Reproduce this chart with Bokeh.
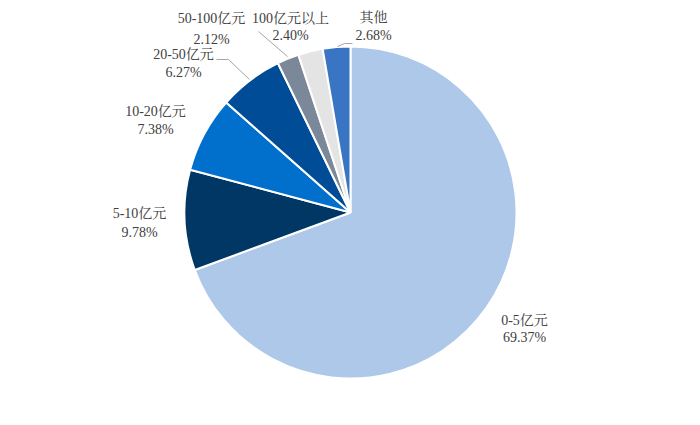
import math
from bokeh.plotting import figure
from bokeh.models import Range1d, ColumnDataSource
from bokeh.core.properties import value
from bokeh.embed import file_html
from bokeh.resources import INLINE

# ---- data ----
categories = ["0-5亿元", "5-10亿元", "10-20亿元", "20-50亿元", "50-100亿元", "100亿元以上", "其他"]
shares = [69.37, 9.78, 7.38, 6.27, 2.12, 2.40, 2.68]
colors = ["#aec8ea", "#003764", "#0070cc", "#004c97", "#7a8899", "#e4e4e4", "#3a75c4"]

# ---- layout (page pixel coordinates) ----
cx, cy, R = 350, 212, 166
label_x = [524, 139, 155, 183, 211, 290, 373]
label_y1 = [320, 213, 111, 54, 18, 18, 17]
label_y2 = [337, 232, 129, 72, 39, 35, 35]
leaders = [
    ([216, 228, 249], [59, 59, 79]),
    ([258, 287], [31, 56]),
    ([352, 344, 337], [43, 43, 46]),
]

W, H = 684, 409
p = figure(width=W, height=H, output_backend="svg", toolbar_location=None,
           x_range=Range1d(0, W), y_range=Range1d(-H, 0),
           min_border=0)
p.axis.visible = False
p.grid.visible = False
p.outline_line_color = None
p.background_fill_color = "white"

total = sum(shares)
starts, ends = [], []
acc = 0.0
for s in shares:
    starts.append(math.pi / 2 - 2 * math.pi * acc / total)
    acc += s
    ends.append(math.pi / 2 - 2 * math.pi * acc / total)

src = ColumnDataSource(dict(x=[cx] * len(shares), y=[-cy] * len(shares),
                            start=starts, end=ends, color=colors))
p.wedge(x="x", y="y", radius=R, start_angle="start", end_angle="end",
        direction="clock", fill_color="color", line_color="white",
        line_width=2, source=src)

for xs, ys in leaders:
    p.line(xs, [-v for v in ys], line_color="#a6a6a6", line_width=1)

font = value("'Liberation Serif', 'Noto Serif CJK SC', 'Noto Sans CJK SC', serif")
pct = [f"{v:.2f}%" for v in shares]
p.text(x=label_x, y=[-v for v in label_y1], text=categories, text_font=font,
       text_font_size="14px", text_color="#404040", text_align="center",
       text_baseline="middle")
p.text(x=label_x, y=[-v for v in label_y2], text=pct, text_font=font,
       text_font_size="14px", text_color="#404040", text_align="center",
       text_baseline="middle")

open("out.html", "w").write(file_html(p, INLINE))
